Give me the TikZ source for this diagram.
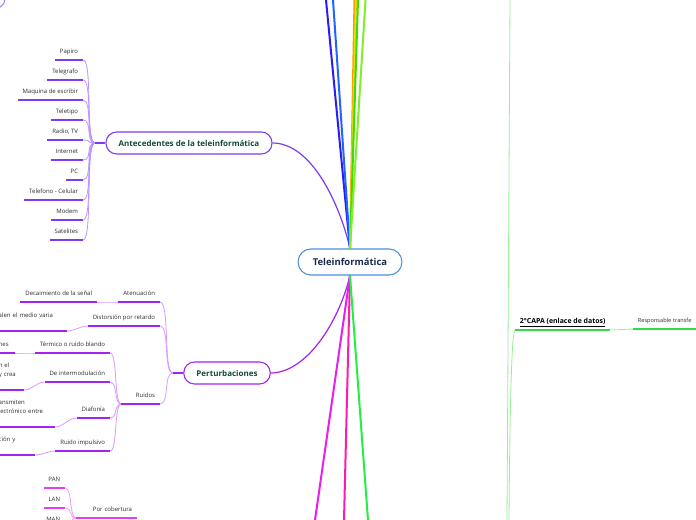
\documentclass[tikz,border=0pt]{standalone}
\usepackage{fontspec}
\setmainfont{Open Sans}
\usepackage{xcolor}
\definecolor{centerline}{RGB}{74,144,217}
\definecolor{centertext}{RGB}{27,43,75}
\definecolor{topictext}{RGB}{22,74,56}
\definecolor{leaftext}{RGB}{45,45,45}
\definecolor{antecol}{RGB}{124,58,245}
\definecolor{antelight}{RGB}{186,150,255}
\definecolor{pertcol}{RGB}{165,35,240}
\definecolor{pertlight}{RGB}{214,155,252}
\definecolor{redcol}{RGB}{232,60,240}
\definecolor{redlight}{RGB}{244,155,248}
\definecolor{osicol}{RGB}{50,220,70}
\definecolor{osilight}{RGB}{150,240,150}
\definecolor{topblue}{RGB}{42,28,245}
\definecolor{midblue}{RGB}{34,100,255}
\definecolor{toporange}{RGB}{255,154,0}
\definecolor{topyellow}{RGB}{230,220,0}
\definecolor{topgreen}{RGB}{60,220,0}
\definecolor{toplime}{RGB}{130,238,40}
\definecolor{botmagenta}{RGB}{232,30,235}
\definecolor{botpink}{RGB}{255,26,170}
\definecolor{botgreen}{RGB}{34,238,68}
\usepackage{tikz}

\begin{document}
\begin{tikzpicture}[
  x=0.75pt, y=-0.75pt,
  central/.style={
    draw=centerline, line width=0.8pt, fill=white,
    rounded corners=9.5pt, minimum height=19.5pt, inner xsep=11pt,
    font=\fontsize{7.1}{8}\selectfont\bfseries, text=centertext,
  },
  topic/.style={
    draw=#1, line width=0.8pt, fill=white,
    rounded corners=8pt, minimum height=16.5pt, inner xsep=9.5pt,
    font=\fontsize{6}{7}\selectfont\bfseries, text=topictext,
  },
  leafbase/.style={
    inner xsep=3.5pt, inner ysep=3.5pt,
    font=\fontsize{4.5}{6.75}\selectfont, text=leaftext, anchor=south east,
  },
  leaf/.style={leafbase, text depth=1pt},
  cut/.style={leafbase, text width=#1, align=left},
  uline/.style={line width=1.5pt, draw=#1},
  link/.style={line width=0.6pt, draw=#1},
  branch/.style={line width=1.5pt, draw=#1},
]
\fill[white] (0,0) rectangle (696,520);
\useasboundingbox (0,0) rectangle (696,520);

\node[central] (tele) at (350,262) {Teleinformática};
\node[topic=antecol] (ante) at (189,143) {Antecedentes de la teleinformática};
\node[topic=pertcol] (pert) at (227,373) {Perturbaciones};

% antecedentes
\foreach \nm/\txt/\yy in {papiro/Papiro/60, telegrafo/Telegrafo/80,
    maquina/Maquina de escribir/100, teletipo/Teletipo/120, radio/{Radio, TV}/140,
    internet/Internet/160, pc/PC/180, telefono/Telefono - Celular/200,
    modem/Modem/220, satelites/Satelites/240}
  \node[leaf] (\nm) at (83,\yy) {\txt};
\coordinate (antehub) at (95,143);
\foreach \nm in {papiro, telegrafo, maquina, teletipo, radio, internet, pc, telefono, modem, satelites} {
  \draw[link=antelight] (\nm.south east) .. controls +(10,0) and +(-10,0) .. (antehub);
  \draw[uline=antecol] (\nm.south west) -- (\nm.south east);
}
\draw[branch=antecol] (antehub) -- (ante.west);

% perturbaciones
\node[leaf] (atenu) at (160,302) {Atenuación};
\node[leaf] (distor) at (160,326) {Distorsión por retardo};
\node[leaf, text width=21.5pt, align=right] (ruidos) at (160,404) {Ruidos};
\node[leaf] (decai) at (97,302) {Decaimiento de la señal};
\node[cut=47.5pt] (distc) at (67,331) {alen el medio varia\\ \mbox{}};
\node[leaf] (termico) at (110,353) {Térmico o ruido blando};
\node[leaf] (intermod) at (110,382) {De intermodulación};
\node[leaf] (diafonia) at (110,418) {Diafonía};
\node[leaf] (impulsivo) at (110,451) {Ruido impulsivo};
\node[leaf, text width=8.5pt, align=left] (termc) at (15,353) {nes};
\node[cut=15.2pt] (interc) at (24,390) {n el\\y crea\\ \mbox{}};
\node[cut=38.5pt] (diafc) at (55,427) {ansmiten\\lectrónico entre\\ \mbox{}};
\node[cut=23.5pt] (impc) at (35,455) {ción y\\ \mbox{}};

\coordinate (perthub) at (173,373);
\foreach \nm in {atenu, distor, ruidos}
  \draw[link=pertlight] (\nm.south east) .. controls +(10,0) and +(-10,0) .. (perthub);
\foreach \nm in {termico, intermod, diafonia, impulsivo}
  \draw[link=pertlight] (\nm.south east) .. controls +(8,0) and +(-8,0) .. (ruidos.south west);
\foreach \a/\b in {decai/atenu, distc/distor, termc/termico, interc/intermod, diafc/diafonia, impc/impulsivo}
  \draw[link=pertlight] (\a.south east) .. controls +(8,0) and +(-8,0) .. (\b.south west);
\foreach \nm in {atenu, distor, ruidos, decai, distc, termico, intermod, diafonia, impulsivo, termc, interc, diafc, impc}
  \draw[uline=pertcol] (\nm.south west) -- (\nm.south east);
\draw[branch=pertcol] (perthub) -- (pert.west);

% redes
\node[leaf] (pan) at (65,488) {PAN};
\node[leaf] (lan) at (65,508) {LAN};
\node[leaf] (man) at (65,528) {MAN};
\node[leaf, text width=38pt, align=right] (cober) at (137,518) {Por cobertura};
\foreach \nm in {pan, lan, man} {
  \draw[link=redlight] (\nm.south east) .. controls +(8,0) and +(-8,0) .. (cober.south west);
  \draw[uline=redcol] (\nm.south west) -- (\nm.south east);
}
\draw[uline=redcol] (cober.south west) -- (cober.south east);

% capas
\node[leaf, anchor=south west, text=black, font=\fontsize{5.2}{6}\selectfont\bfseries] (capa) at (515,330) {\underline{2°CAPA (enlace de datos)}};
\node[leaf, anchor=south west, font=\fontsize{4.2}{5}\selectfont, text width=48pt, align=left] (resp) at (633,329) {Responsable transfe};
\coordinate (ositop) at (510,0);
\coordinate (osibot) at (507,520);
\coordinate (capabot) at (509,520);
\draw[link=osilight] (osibot) -- (ositop);
\draw[link=osilight] (capabot) .. controls (510,390) and (512,332) .. (capa.south west);
\draw[link=osilight] (capa.south east) -- (resp.south west);
\draw[uline=osicol] (capa.south west) -- (capa.south east);
\draw[uline=osicol] (resp.south west) -- (resp.south east);

% main branches
\draw[line width=0.9pt, draw=antecol] (ante.east) .. controls (312,143) and (340,205) .. (tele.north);
\draw[line width=0.9pt, draw=pertcol] (pert.east) .. controls (305,373) and (338,325) .. (tele.south);
\foreach \nm/\xx/\col in {ta/326/topblue, tb/333/midblue, tc/354.5/toporange, td/356/topyellow, te/358/topgreen, tf/365.5/toplime} {
  \coordinate (\nm) at (\xx,0);
  \draw[branch=\col] (tele.north) -- (\nm);
}
\foreach \nm/\xx/\col in {ba/315/botmagenta, bb/344/botpink, bc/368/botgreen} {
  \coordinate (\nm) at (\xx,520);
  \draw[branch=\col] (tele.south) -- (\nm);
}
\coordinate (cornA) at (5,-1);
\coordinate (cornB) at (-1,8);
\draw[line width=0.8pt, draw=topblue!50] (cornA) .. controls (4,4) .. (cornB);
\end{tikzpicture}
\end{document}
